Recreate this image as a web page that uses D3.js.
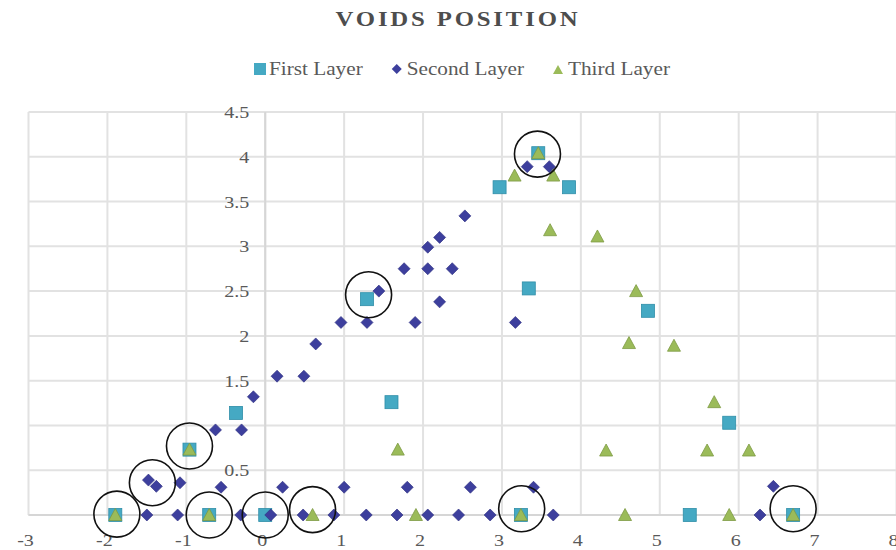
<!DOCTYPE html>
<html>
<head>
<meta charset="utf-8">
<script src="https://cdn.jsdelivr.net/npm/d3@7"></script>
<style>
  html, body { margin: 0; padding: 0; background: #ffffff; }
  svg { display: block; }
  text { font-family: "Liberation Serif", "Times New Roman", serif; fill: #595959; }
</style>
</head>
<body>
<svg id="chart" width="896" height="550"></svg>
<script>
// Void centres for each layer (x, y in section units)
const firstLayerX = [-1.9, -0.96, -0.71, -0.37, 0.0, 1.29, 1.6, 2.97, 3.34, 3.46, 3.85, 3.24, 4.85, 5.38, 5.88, 6.69];
const firstLayerY = [0.0, 0.73, 0.0, 1.14, 0.0, 2.41, 1.26, 3.66, 2.53, 4.04, 3.66, 0.0, 2.28, 0.0, 1.03, 0.0];

const secondLayerX = [-1.5, -1.11, -0.31, 0.07, 0.48, 0.87, 1.28, 1.67, 2.06, 2.45, 2.85, 3.65, 6.27,
  -1.48, -1.38, -1.08, -0.56, 0.22, 1.0, 1.8, 2.6, 3.4, 6.44,
  -0.63, -0.3, -0.15, 0.15, 0.49, 0.64, 0.96, 1.29, 1.44, 1.9, 1.76, 2.06, 2.37, 2.06, 2.21, 2.21, 2.53, 3.17, 3.32, 3.6];
const secondLayerY = [0, 0, 0, 0, 0, 0, 0, 0, 0, 0, 0, 0, 0,
  0.39, 0.32, 0.36, 0.31, 0.31, 0.31, 0.31, 0.31, 0.31, 0.32,
  0.95, 0.95, 1.32, 1.55, 1.55, 1.91, 2.15, 2.15, 2.5, 2.15, 2.75, 2.75, 2.75, 2.99, 3.1, 2.38, 3.34, 2.15, 3.89, 3.89];

const thirdLayerX = [-1.9, -0.96, -0.71, 0.6, 1.68, 1.91, 3.24, 3.16, 3.46, 3.65, 3.61, 4.21, 4.7, 4.61, 5.18, 5.69, 4.32, 5.6, 6.13, 4.56, 5.88, 6.69];
const thirdLayerY = [0.0, 0.73, 0.0, 0.0, 0.73, 0.0, 0.0, 3.79, 4.04, 3.79, 3.18, 3.11, 2.5, 1.92, 1.89, 1.26, 0.72, 0.72, 0.72, 0.0, 0.0, 0.0];

// Coincident voids, ringed
const ringX = [-1.88, -1.43, -0.96, -0.71, 0.0, 0.6, 1.31, 3.45, 3.25, 6.69];
const ringY = [0.01, 0.36, 0.77, 0.0, 0.0, 0.06, 2.46, 4.03, 0.07, 0.07];

const xTicks = [-3, -2, -1, 0, 1, 2, 3, 4, 5, 6, 7, 8];
const yTicks = [0, 0.5, 1, 1.5, 2, 2.5, 3, 3.5, 4, 4.5];
// the 0 and 1 labels sit under the markers next to the vertical axis
const yLabels = [0.5, 1.5, 2, 2.5, 3, 3.5, 4, 4.5];
const seriesNames = ["First Layer", "Second Layer", "Third Layer"];

const svg = d3.select("#chart");
const x = d3.scaleLinear().domain([-3, 8]).range([28.5, 896.5]);
const y = d3.scaleLinear().domain([0, 4.5]).range([515, 112]);
const stretch = "scale(1.18,1)";

const colors = { sq: "#45a9c3", sqEdge: "#2f8ea8", dm: "#3d3f9d", dmEdge: "#2e2f80", tr: "#9bbb59", trEdge: "#7e9a44" };

// gridlines
const grid = svg.append("g").attr("stroke", "#e2e2e2").attr("stroke-width", 2);
grid.selectAll("line.h").data(yTicks).join("line")
  .attr("x1", x(-3)).attr("x2", x(8))
  .attr("y1", d => y(d)).attr("y2", d => y(d));
grid.selectAll("line.v").data(xTicks).join("line")
  .attr("x1", d => x(d)).attr("x2", d => x(d))
  .attr("y1", y(4.5)).attr("y2", y(0));

// axes through the origin
svg.append("line").attr("x1", x(-3)).attr("x2", x(8)).attr("y1", y(0)).attr("y2", y(0))
  .attr("stroke", "#d6d6d6").attr("stroke-width", 2);
svg.append("line").attr("x1", x(0)).attr("x2", x(0)).attr("y1", y(4.5)).attr("y2", y(0))
  .attr("stroke", "#d6d6d6").attr("stroke-width", 2);

// tick labels
svg.append("g").selectAll("text").data(xTicks).join("text")
  .attr("transform", d => `translate(${x(d) - 3},546) ${stretch}`)
  .attr("text-anchor", "middle").attr("font-size", 17)
  .text(d => d);
svg.append("g").selectAll("text").data(yLabels).join("text")
  .attr("transform", d => `translate(${x(0) - 16},${y(d) + 6}) ${stretch}`)
  .attr("text-anchor", "end").attr("font-size", 17)
  .text(d => d);

// markers
const zip = (xs, ys) => xs.map((v, i) => [v, ys[i]]);
const sqSize = 13;
svg.append("g").selectAll("rect").data(zip(firstLayerX, firstLayerY)).join("rect")
  .attr("x", d => x(d[0]) - sqSize / 2).attr("y", d => y(d[1]) - sqSize / 2)
  .attr("width", sqSize).attr("height", sqSize)
  .attr("fill", colors.sq).attr("stroke", colors.sqEdge).attr("stroke-width", 0.8);

const diamond = d3.symbol().type(d3.symbolSquare).size(72);
svg.append("g").selectAll("path").data(zip(secondLayerX, secondLayerY)).join("path")
  .attr("d", diamond)
  .attr("transform", d => `translate(${x(d[0])},${y(d[1])}) rotate(45)`)
  .attr("fill", colors.dm).attr("stroke", colors.dmEdge).attr("stroke-width", 0.6);

const tri = "M0,-6.5L6.5,5.5L-6.5,5.5Z";
svg.append("g").selectAll("path").data(zip(thirdLayerX, thirdLayerY)).join("path")
  .attr("d", tri)
  .attr("transform", d => `translate(${x(d[0])},${y(d[1])})`)
  .attr("fill", colors.tr).attr("stroke", colors.trEdge).attr("stroke-width", 0.8);

svg.append("g").selectAll("circle").data(zip(ringX, ringY)).join("circle")
  .attr("cx", d => x(d[0])).attr("cy", d => y(d[1])).attr("r", 23)
  .attr("fill", "none").attr("stroke", "#111").attr("stroke-width", 1.6);

// title
svg.append("text")
  .attr("transform", `translate(458,26) ${stretch}`)
  .attr("text-anchor", "middle").attr("font-size", 21).attr("font-weight", "bold")
  .attr("letter-spacing", 2.4)
  .style("fill", "#4d4d4d")
  .text("VOIDS POSITION");

// legend
const legend = svg.append("g");
let lx = 254;
const ly = 69;
seriesNames.forEach((name, i) => {
  const g = legend.append("g");
  if (i === 0) {
    g.append("rect").attr("x", lx).attr("y", ly - 6).attr("width", 12).attr("height", 12)
      .attr("fill", colors.sq);
  } else if (i === 1) {
    g.append("path").attr("d", d3.symbol().type(d3.symbolSquare).size(50))
      .attr("transform", `translate(${lx + 5},${ly}) rotate(45)`).attr("fill", colors.dm);
  } else {
    g.append("path").attr("d", "M0,-5L5,4L-5,4Z")
      .attr("transform", `translate(${lx + 5},${ly + 1})`).attr("fill", colors.tr);
  }
  const t = g.append("text")
    .attr("transform", `translate(${lx + 15},${ly + 6}) ${stretch}`)
    .attr("font-size", 18).text(name);
  const w = t.node().getComputedTextLength() * 1.18;
  lx += 15 + w + 29;
});
</script>
</body>
</html>
